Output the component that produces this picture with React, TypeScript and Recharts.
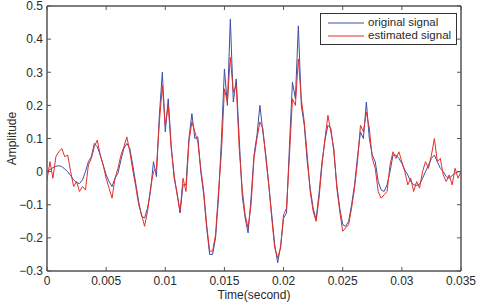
import { LineChart, Line, XAxis, YAxis, ReferenceArea } from 'recharts';

// time axis (seconds), one sample every 0.25 ms
const time = [
  0, 0.00025, 0.0005, 0.00075, 0.001, 0.00125, 0.0015, 0.00175, 0.002, 0.00225,
  0.0025, 0.00275, 0.003, 0.00325, 0.0035, 0.00375, 0.004, 0.00425, 0.0045, 0.00475,
  0.005, 0.00525, 0.0055, 0.00575, 0.006, 0.00625, 0.0065, 0.00675, 0.007, 0.00725,
  0.0075, 0.00775, 0.008, 0.00825, 0.0085, 0.00875, 0.009, 0.00925, 0.0095, 0.00975,
  0.01, 0.01025, 0.0105, 0.01075, 0.011, 0.01125, 0.0115, 0.01175, 0.012, 0.01225,
  0.0125, 0.01275, 0.013, 0.01325, 0.0135, 0.01375, 0.014, 0.01425, 0.0145, 0.01475,
  0.015, 0.01525, 0.0155, 0.01575, 0.016, 0.01625, 0.0165, 0.01675, 0.017, 0.01725,
  0.0175, 0.01775, 0.018, 0.01825, 0.0185, 0.01875, 0.019, 0.01925, 0.0195, 0.01975,
  0.02, 0.02025, 0.0205, 0.02075, 0.021, 0.02125, 0.0215, 0.02175, 0.022, 0.02225,
  0.0225, 0.02275, 0.023, 0.02325, 0.0235, 0.02375, 0.024, 0.02425, 0.0245, 0.02475,
  0.025, 0.02525, 0.0255, 0.02575, 0.026, 0.02625, 0.0265, 0.02675, 0.027, 0.02725,
  0.0275, 0.02775, 0.028, 0.02825, 0.0285, 0.02875, 0.029, 0.02925, 0.0295, 0.02975,
  0.03, 0.03025, 0.0305, 0.03075, 0.031, 0.03125, 0.0315, 0.03175, 0.032, 0.03225,
  0.0325, 0.03275, 0.033, 0.03325, 0.0335, 0.03375, 0.034, 0.03425, 0.0345, 0.03475,
  0.035,
];

const original = [
  0.0, 0.006, 0.012, 0.016, 0.018, 0.015, 0.008, 0.0, -0.012, -0.025,
  -0.033, -0.036, -0.025, 0.0, 0.03, 0.045, 0.085, 0.075, 0.05, 0.02,
  -0.01, -0.03, -0.045, -0.02, -0.005, 0.035, 0.07, 0.085, 0.07, 0.02,
  -0.035, -0.09, -0.135, -0.14, -0.11, -0.06, 0.03, -0.015, 0.17, 0.3,
  0.12, 0.22, 0.08, -0.02, -0.065, -0.125, -0.04, -0.04, 0.1, 0.175,
  0.1, 0.105, 0.0, -0.07, -0.17, -0.25, -0.25, -0.2, -0.08, 0.1,
  0.31, 0.2, 0.46, 0.21, 0.28, 0.1, -0.07, -0.14, -0.185, -0.08,
  0.05, 0.11, 0.2, 0.12, 0.05, -0.04, -0.13, -0.22, -0.275, -0.225,
  -0.14, -0.125, 0.08, 0.27, 0.22, 0.44, 0.2, 0.14, 0.03, -0.05,
  -0.11, -0.145, -0.065, 0.03, 0.095, 0.14, 0.13, 0.06, -0.04, -0.11,
  -0.16, -0.165, -0.15, -0.1, -0.04, 0.045, 0.12, 0.1, 0.21, 0.1,
  0.05, 0.03, -0.03, -0.055, -0.06, -0.04, 0.0, 0.05, 0.05, 0.04,
  0.025, 0.005, -0.01, -0.03, -0.04, -0.042, -0.038, -0.02, 0.0, 0.02,
  0.04, 0.05, 0.03, 0.01, 0.0, -0.015, -0.02, -0.012, -0.005, 0.0,
  0.0,
];

const estimated = [
  -0.025, 0.03, -0.02, 0.045, 0.06, 0.07, 0.045, 0.05, 0.0, -0.045,
  -0.03, -0.06, -0.045, -0.055, 0.02, 0.04, 0.075, 0.095, 0.05, 0.02,
  -0.02, -0.05, -0.08, -0.02, 0.01, 0.05, 0.075, 0.105, 0.06, 0.005,
  -0.045, -0.1, -0.13, -0.165, -0.12, -0.05, 0.0, 0.01, 0.15, 0.26,
  0.14, 0.2, 0.07, -0.01, -0.07, -0.12, -0.02, -0.06, 0.09, 0.15,
  0.12, 0.09, 0.01, -0.06, -0.16, -0.24, -0.24, -0.19, -0.06, 0.06,
  0.25, 0.21, 0.345, 0.24, 0.26, 0.07, -0.05, -0.13, -0.17, -0.1,
  0.04, 0.1, 0.15, 0.13, 0.04, -0.04, -0.14, -0.23, -0.26, -0.23,
  -0.13, -0.11, 0.05, 0.22, 0.2, 0.34, 0.22, 0.15, 0.05, -0.06,
  -0.12, -0.15, -0.08, 0.02, 0.1, 0.17, 0.12, 0.07, -0.05, -0.12,
  -0.18, -0.17, -0.16, -0.11, -0.05, 0.03, 0.14, 0.12, 0.18, 0.13,
  0.04, 0.01, -0.06, -0.08, -0.07, -0.06, 0.02, 0.06, 0.04, 0.06,
  0.03, 0.0, -0.04, -0.02, -0.06, -0.03, -0.05, 0.0, 0.03, 0.01,
  0.05, 0.1, 0.03, 0.04, -0.01, -0.03, -0.01, -0.04, 0.01, -0.02,
  0.0,
];

const xTicks = [0, 0.005, 0.01, 0.015, 0.02, 0.025, 0.03, 0.035];
const yTicks = [-0.3, -0.2, -0.1, 0, 0.1, 0.2, 0.3, 0.4, 0.5];

const BLUE = '#3e4ea6';
const RED = '#e2302a';
const FRAME = '#555';
const TEXT = '#2a2a2a';
const FONT = '"Liberation Sans", Arial, sans-serif';

const data = time.map((t, i) => ({ t, original: original[i], estimated: estimated[i] }));

const fmtY = (v: number) => String(v).replace('-', '\u2212');
const blank = () => '';

const series = [
  { name: 'original signal', color: BLUE },
  { name: 'estimated signal', color: RED },
];

const LegendBox = () => (
  <div
    style={{
      position: 'absolute',
      left: 320,
      top: 13,
      width: 137,
      boxSizing: 'border-box',
      border: '1px solid #333',
      background: '#fff',
      padding: '2px 2px 2px 7px',
      fontFamily: FONT,
      fontSize: 11.5,
      color: TEXT,
      lineHeight: '13px',
      whiteSpace: 'nowrap',
    }}
  >
    {series.map((s) => (
      <div key={s.name} style={{ display: 'flex', alignItems: 'center', height: 13 }}>
        <svg width={36} height={4} style={{ marginRight: 4, flex: 'none' }}>
          <line x1={0} y1={2} x2={36} y2={2} stroke={s.color} strokeWidth={1} />
        </svg>
        <span>{s.name}</span>
      </div>
    ))}
  </div>
);

export default function App() {
  return (
    <div style={{ position: 'absolute', left: 0, top: 0, width: 480, height: 304, background: '#fff' }}>
      <style>{'body{margin:0}'}</style>
      <LineChart
        width={480}
        height={304}
        data={data}
        margin={{ top: 6, right: 19, left: 0, bottom: 0 }}
      >
        <XAxis
          dataKey="t"
          type="number"
          domain={[0, 0.035]}
          ticks={xTicks}
          interval={0}
          allowDataOverflow
          height={33}
          tickSize={-4}
          tickMargin={9}
          stroke={FRAME}
          tick={{ fill: TEXT, fontSize: 12, fontFamily: FONT }}
          label={{
            value: 'Time(second)',
            position: 'insideBottom',
            offset: 5,
            fill: TEXT,
            fontSize: 12,
            fontFamily: FONT,
          }}
        />
        <XAxis
          xAxisId="top"
          dataKey="t"
          type="number"
          orientation="top"
          domain={[0, 0.035]}
          ticks={xTicks}
          interval={0}
          allowDataOverflow
          height={1}
          mirror
          tickSize={4}
          stroke={FRAME}
          tickFormatter={blank}
        />
        <YAxis
          type="number"
          domain={[-0.3, 0.5]}
          ticks={yTicks}
          interval={0}
          allowDataOverflow
          width={47}
          tickSize={-4}
          tickMargin={8}
          stroke={FRAME}
          tickFormatter={fmtY}
          tick={{ fill: TEXT, fontSize: 12, fontFamily: FONT }}
          label={{
            value: 'Amplitude',
            angle: -90,
            position: 'insideLeft',
            offset: 12,
            fill: TEXT,
            fontSize: 12,
            fontFamily: FONT,
            style: { textAnchor: 'middle' },
          }}
        />
        <YAxis
          yAxisId="right"
          type="number"
          orientation="right"
          domain={[-0.3, 0.5]}
          ticks={yTicks}
          interval={0}
          allowDataOverflow
          width={1}
          mirror
          tickSize={4}
          stroke={FRAME}
          tickFormatter={blank}
        />
        <ReferenceArea
          x1={0}
          x2={0.035}
          y1={-0.3}
          y2={0.5}
          fill="none"
          stroke={FRAME}
          ifOverflow="visible"
        />
        <Line
          dataKey="original"
          name="original signal"
          type="linear"
          stroke={BLUE}
          strokeWidth={1}
          dot={false}
          isAnimationActive={false}
        />
        <Line
          dataKey="estimated"
          name="estimated signal"
          type="linear"
          stroke={RED}
          strokeWidth={1}
          dot={false}
          isAnimationActive={false}
        />
      </LineChart>
      <LegendBox />
    </div>
  );
}
